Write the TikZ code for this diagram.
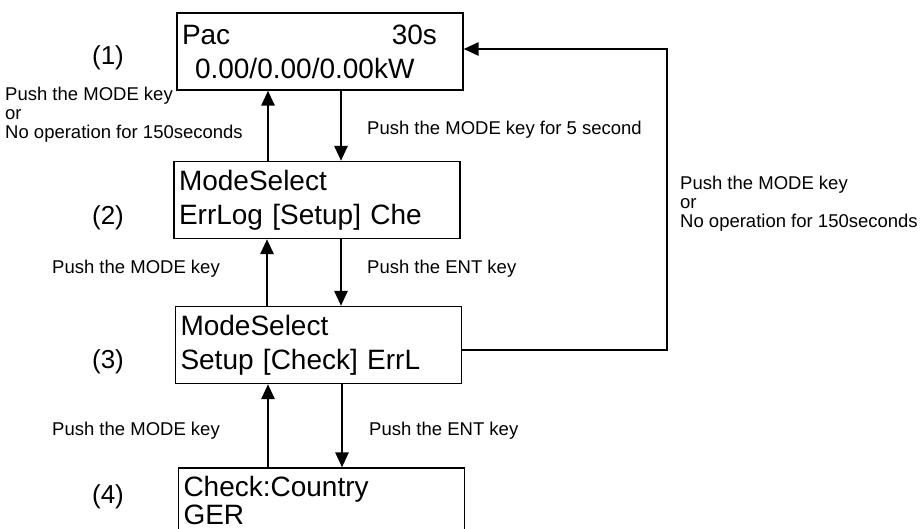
\documentclass[tikz,border=0pt]{standalone}
\usepackage{fontspec}
\setmainfont{Liberation Sans}
\usetikzlibrary{arrows.meta,positioning}

\tikzset{
  lcd/.style={draw, line width=1.3pt, minimum width=286pt, minimum height=77pt,
    inner xsep=5pt, text width=276pt, align=left, font=\fontsize{28}{34}\selectfont},
  flow/.style={line width=2.8pt, -{Triangle[width=13pt,length=15pt]}},
  note/.style={align=left, inner sep=0pt, font=\fontsize{18.5}{19}\selectfont},
  num/.style={font=\fontsize{26}{30}\selectfont}
}

\begin{document}
\begin{tikzpicture}[x=1pt, y=-1pt]
    \useasboundingbox (0,0) rectangle (920,529);
    \clip (0,0) rectangle (920,529);

    % Screens
    \node[lcd] (s1) at (320,51.5) {Pac\hfill 30s\kern21pt\\\hspace*{13pt}0.00/0.00/0.00kW};
    \node[lcd] (s2) at (317,200) {ModeSelect\\ErrLog [Setup] Che};
    \node[lcd] (s3) at (318.5,345) {ModeSelect\\Setup [Check] ErrL};
    \node[lcd, font=\fontsize{28}{28}\selectfont, text depth=40pt] (s4) at (321.5,506.5) {Check:Country\\GER};

    % Numbers
    \node[num] (n1) at (108,58) {(1)};
    \node[num] (n2) at (108,218) {(2)};
    \node[num] (n3) at (108,362) {(3)};
    \node[num] (n4) at (108,497) {(4)};

    % Keys 1-2
    \draw[flow] ([xshift=-49pt]s2.north) -- ([xshift=-49pt]s2.north |- s1.south);
    \draw[flow] ([xshift=21pt]s1.south) -- ([xshift=21pt]s1.south |- s2.north);
    \node[note, anchor=west] (k1) at (5,115) {Push the MODE key\\or\\No operation for 150seconds};
    \node[note, anchor=west] (k2) at (367,130) {Push the MODE key for 5 second};

    % Keys 2-3
    \draw[flow] ([xshift=-51.5pt]s3.north) -- ([xshift=-51.5pt]s3.north |- s2.south);
    \draw[flow] ([xshift=24pt]s2.south) -- ([xshift=24pt]s2.south |- s3.north);
    \node[note, anchor=west] (k3) at (52,269) {Push the MODE key};
    \node[note, anchor=west] (k4) at (367,269) {Push the ENT key};

    % Keys 3-4
    \draw[flow] ([xshift=-53.5pt]s4.north) -- ([xshift=-53.5pt]s4.north |- s3.south);
    \draw[flow] ([xshift=23.5pt]s3.south) -- ([xshift=23.5pt]s3.south |- s4.north);
    \node[note, anchor=west] (k5) at (52,431) {Push the MODE key};
    \node[note, anchor=west] (k6) at (369,431) {Push the ENT key};

    % Back to the top
    \coordinate (r) at (667,0);
    \draw[flow] ([yshift=-5pt]s3.east) -- ([yshift=-5pt]s3.east -| r) -- ([yshift=2.5pt]s1.east -| r) -- ([yshift=2.5pt]s1.east);
    \node[note, anchor=west] (k7) at (680,204) {Push the MODE key\\or\\No operation for 150seconds};
\end{tikzpicture}
\end{document}
